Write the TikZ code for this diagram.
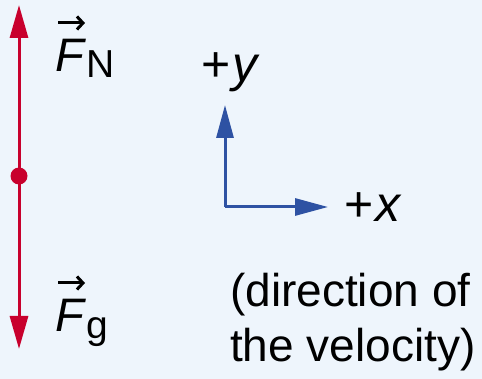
\documentclass[tikz,border=0pt]{standalone}
\usepackage{fontspec}
\setmainfont{Liberation Sans}
\usetikzlibrary{arrows.meta}
\definecolor{bgc}{HTML}{EEF5FC}
\definecolor{forcered}{HTML}{C8002D}
\definecolor{axisblue}{HTML}{2E52A3}
\tikzset{
  force/.style={draw=forcered, line width=3pt, -{Triangle[length=33pt,width=18pt]}},
  axis/.style={draw=axisblue, line width=3pt, -{Triangle[length=33pt,width=17pt]}},
  vecarrow/.style={draw=black, line width=3pt, -{Straight Barb[length=6pt,width=13pt,line width=3pt]}},
  flabel/.style={anchor=base west, inner sep=0pt, font=\fontsize{47}{47}\selectfont},
  alabel/.style={anchor=base west, inner sep=0pt, font=\fontsize{50}{50}\selectfont},
  note/.style={anchor=base west, inner sep=0pt, align=left, font=\fontsize{46}{55}\selectfont}
}
\begin{document}
\begin{tikzpicture}[x=1pt,y=-1pt]
\fill[bgc] (0,0) rectangle (482,379);
\useasboundingbox (0,0) rectangle (482,379);
% body point and forces
\node[circle, fill=forcered, minimum size=17pt, inner sep=0pt] (body) at (19,176) {};
\coordinate (ntip) at (19,5);
\coordinate (gtip) at (19,349);
\draw[force] (body.center) -- (ntip);
\draw[force] (body.center) -- (gtip);
\node[flabel] (FN) at (55,72) {\textit{F}\fontsize{39}{39}\selectfont\raisebox{-6pt}{N}};
\node[flabel] (Fg) at (55,332) {\textit{F}\fontsize{39}{39}\selectfont\raisebox{-6pt}{g}};
\draw[vecarrow] ([shift={(3,-49)}]FN.base west) -- ++(27,0);
\draw[vecarrow] ([shift={(3,-49)}]Fg.base west) -- ++(27,0);
% axes
\coordinate (origin) at (225,207);
\coordinate (ytip) at (225,105);
\coordinate (xtip) at (328,207);
\draw[axis] (origin) -- (ytip);
\draw[axis] (origin) -- (xtip);
\node[alabel] (ylab) at (201,82) {+\kern2pt\textit{y}};
\node[alabel] (xlab) at (344,222) {+\kern2pt\textit{x}};
% note
\node[note] (vel) at (230,362) {(direction of\\the velocity)};
\end{tikzpicture}
\end{document}
